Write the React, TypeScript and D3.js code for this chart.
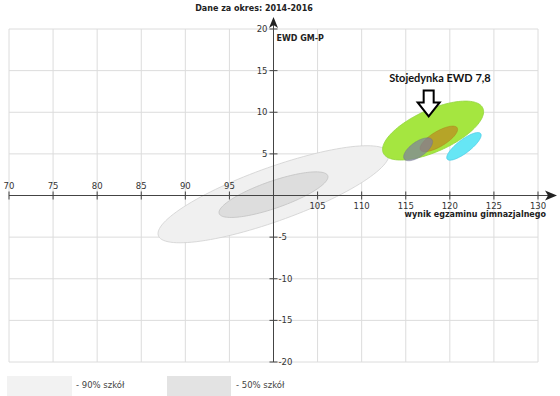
import React from 'react';
import * as d3 from 'd3';

// ---- data ----
const xTicks = [70, 75, 80, 85, 90, 95, 100, 105, 110, 115, 120, 125, 130];
const yTicks = [-20, -15, -10, -5, 0, 5, 10, 15, 20];

const ellipseNames = ['90% szkół', '50% szkół', 'Stojedynka', 'Stojedynka 50%', 'Stojedynka dolna', 'Szkoła B'];
const ellipseCx = [100.0, 100.0, 118.1, 118.75, 116.4, 121.6];
const ellipseCy = [0.15, 0.1, 7.8, 6.8, 5.55, 5.9];
const ellipseRx = [13.1, 6.18, 5.73, 2.13, 1.64, 1.95];
const ellipseRy = [5.83, 2.74, 3.54, 1.54, 1.38, 1.66];
const ellipseRho = [0.81, 0.78, 0.64, 0.74, 0.65, 0.81];

const legendLabels = ['- 90% szkół', '- 50% szkół'];
const titleText = 'Dane za okres: 2014-2016';
const yAxisTitle = 'EWD GM-P';
const xAxisTitle = 'wynik egzaminu gimnazjalnego';
const annotationText = 'Stojedynka EWD 7,8';
const annotationPoint = [117.6, 9.5];

// ---- styles ----
const ellipseFill = ['#f0f0f0', '#dddddd', '#a5e640', 'rgba(190,135,30,0.7)', 'rgba(125,125,160,0.7)', '#66e6f5'];
const ellipseStroke = ['#d0d0d0', '#c2c2c2', '#92d63e', 'rgba(170,120,20,0.5)', 'rgba(110,110,140,0.5)', '#4ccbe6'];
const legendFill = ['#f2f2f2', '#e3e3e3'];

const W = 560;
const H = 396;
const font = 'DejaVu Sans, sans-serif';

export default function App() {
  const x = d3.scaleLinear().domain([70, 130]).range([9, 538]);
  const y = d3.scaleLinear().domain([-20, 20]).range([362, 29]);
  const x0 = x(100);
  const y0 = y(0);

  const line = d3
    .line<[number, number]>()
    .x((d) => x(d[0]))
    .y((d) => y(d[1]))
    .curve(d3.curveLinearClosed);

  const ellipsePath = (i: number) => {
    const pts: [number, number][] = [];
    const n = 120;
    const r = ellipseRho[i];
    const s = Math.sqrt(1 - r * r);
    for (let k = 0; k < n; k++) {
      const t = (k / n) * Math.PI * 2;
      pts.push([
        ellipseCx[i] + ellipseRx[i] * Math.cos(t),
        ellipseCy[i] + ellipseRy[i] * (r * Math.cos(t) + s * Math.sin(t)),
      ]);
    }
    return line(pts) || '';
  };

  const tx = x(annotationPoint[0]);
  const ty = y(annotationPoint[1]);
  const arrowPts = [
    [0, 0],
    [-11, -14],
    [-5, -14],
    [-5, -26],
    [5, -26],
    [5, -14],
    [11, -14],
  ]
    .map((p) => `${tx + p[0]},${ty + p[1]}`)
    .join(' ');

  return (
    <svg
      width={W}
      height={H}
      style={{ position: 'absolute', left: 0, top: 0, display: 'block', background: '#fff' }}
    >
      {/* grid */}
      <g stroke="#dcdcdc" strokeWidth={1}>
        {xTicks.map((t) => (
          <line key={'gx' + t} x1={x(t)} x2={x(t)} y1={y(20)} y2={y(-20)} />
        ))}
        {yTicks.map((t) => (
          <line key={'gy' + t} x1={x(70)} x2={x(130)} y1={y(t)} y2={y(t)} />
        ))}
      </g>

      {/* ellipses */}
      {ellipseNames.map((n, i) => (
        <path key={n} d={ellipsePath(i)} fill={ellipseFill[i]} stroke={ellipseStroke[i]} strokeWidth={0.8} />
      ))}

      {/* axes */}
      <g stroke="#444" strokeWidth={1} fill="none">
        <line x1={x(70)} x2={550} y1={y0} y2={y0} />
        <line x1={x0} x2={x0} y1={y(-20)} y2={22} />
        {xTicks.filter((t) => t !== 100).map((t) => (
          <line key={'tx' + t} x1={x(t)} x2={x(t)} y1={y0 - 4} y2={y0 + 4} />
        ))}
        {yTicks.filter((t) => t !== 0).map((t) => (
          <line key={'ty' + t} x1={x0 - 4} x2={x0 + 4} y1={y(t)} y2={y(t)} />
        ))}
      </g>
      <polygon
        points={`557,${y0} 545,${y0 - 5} 548,${y0} 545,${y0 + 5}`}
        fill="#222"
      />
      <polygon
        points={`${x0},17 ${x0 - 4.5},28 ${x0},25 ${x0 + 4.5},28`}
        fill="#222"
      />

      {/* tick labels */}
      <g fontFamily={font} fontSize={8.5} fill="#333">
        {xTicks.filter((t) => t < 100).map((t) => (
          <text key={'lx' + t} x={x(t)} y={y0 - 7} textAnchor="middle">
            {t}
          </text>
        ))}
        {xTicks.filter((t) => t > 100).map((t) => (
          <text key={'lx' + t} x={x(t)} y={y0 + 13} textAnchor="middle">
            {t}
          </text>
        ))}
        {yTicks.filter((t) => t > 0).map((t) => (
          <text key={'ly' + t} x={x0 - 6} y={y(t)} dy="0.35em" textAnchor="end">
            {t}
          </text>
        ))}
        {yTicks.filter((t) => t < 0).map((t) => (
          <text key={'ly' + t} x={x0 + 5} y={y(t)} dy="0.35em" textAnchor="start">
            {t}
          </text>
        ))}
      </g>

      {/* titles */}
      <text x={254} y={11} textAnchor="middle" fontFamily={font} fontSize={8} fontWeight="bold" fill="#222">
        {titleText}
      </text>
      <text x={x0 + 3} y={41} fontFamily={font} fontSize={8} fontWeight="bold" fill="#222">
        {yAxisTitle}
      </text>
      <text x={546} y={217} textAnchor="end" fontFamily={font} fontSize={8} fontWeight="bold" fill="#222">
        {xAxisTitle}
      </text>

      {/* annotation */}
      <text x={440} y={82} textAnchor="middle" fontFamily="Lato, sans-serif" fontSize={11} fontWeight="bold" fill="#111">
        {annotationText}
      </text>
      <polygon points={arrowPts} fill="#fff" stroke="#000" strokeWidth={2} strokeLinejoin="miter" />

      {/* legend */}
      <rect x={7} y={376} width={65} height={25} fill={legendFill[0]} />
      <text x={76} y={388} fontFamily={font} fontSize={8.5} fill="#444">
        {legendLabels[0]}
      </text>
      <rect x={167} y={376} width={64} height={25} fill={legendFill[1]} />
      <text x={236} y={388} fontFamily={font} fontSize={8.5} fill="#444">
        {legendLabels[1]}
      </text>
    </svg>
  );
}
